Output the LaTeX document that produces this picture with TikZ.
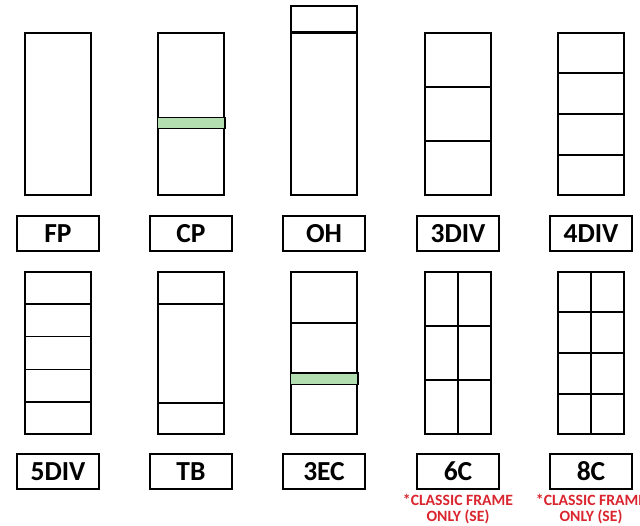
\documentclass[tikz,border=0pt]{standalone}
\usepackage{fontspec}
\setmainfont{Carlito}
\usetikzlibrary{calc}
\definecolor{notered}{RGB}{218,37,46}
\definecolor{bargreen}{RGB}{178,222,176}
\begin{document}
\begin{tikzpicture}[x=1pt,y=-1pt,
  frame/.style={draw=black,line width=1.5pt,rectangle,inner sep=0pt,minimum width=66pt,minimum height=162pt},
  tag/.style={draw=black,line width=1.3pt,rectangle,inner sep=0pt,minimum width=82pt,minimum height=35pt,font=\fontsize{27.5}{32}\selectfont\bfseries},
  note/.style={text=notered,align=center,font=\fontsize{15.7}{16.5}\selectfont\bfseries,inner sep=0pt},
  div/.style={line width=1.6pt,draw=black},
  bar/.style={draw=black,line width=1.5pt,fill=bargreen}]
\useasboundingbox (0,0) rectangle (640,525);
\fill[white] (0,0) rectangle (640,525);
% row 1 frames
\node[frame] (fp) at (58,114) {};
\node[frame] (cp) at (191,114) {};
\node[frame] (oh) at (324,114) {};
\node[frame] (d3) at (458,114) {};
\node[frame] (d4) at (591,114) {};
% row 2 frames
\node[frame] (d5) at (58,353) {};
\node[frame] (tb) at (191,353) {};
\node[frame] (ec) at (324,353) {};
\node[frame] (c6) at (458,353) {};
\node[frame] (c8) at (591,353) {};
% labels
\node[tag] (lfp) at (58,233.5) {FP};
\node[tag] (lcp) at (191,233.5) {CP};
\node[tag] (loh) at (324,233.5) {OH};
\node[tag] (ld3) at (458,233.5) {3DIV};
\node[tag] (ld4) at (591,233.5) {4DIV};
\node[tag] (ld5) at (58,471.5) {5DIV};
\node[tag] (ltb) at (191,471.5) {TB};
\node[tag] (lec) at (324,471.5) {3EC};
\node[tag] (lc6) at (458,471.5) {6C};
\node[tag] (lc8) at (591,471.5) {8C};
\node[note,anchor=north] (n6) at ($(lc6.south)+(0,4)$) {*CLASSIC FRAME\\ONLY (SE)};
\node[note,anchor=north] (n8) at ($(lc8.south)+(0,4)$) {*CLASSIC FRAME\\ONLY (SE)};
% CP green bar
\draw[bar] (cp.west |- 0,117.5) rectangle (cp.east |- 0,128.5);
% OH top box
\node[draw=black,line width=1.5pt,rectangle,inner sep=0pt,minimum width=66pt,minimum height=25.5pt,anchor=south] (ohtop) at (oh.north) {};
% 3DIV
\foreach \f in {1,2}{\draw[div] ($(d3.north west)!\f/3!(d3.south west)$) -- ($(d3.north east)!\f/3!(d3.south east)$);}
% 4DIV
\foreach \f in {1,2,3}{\draw[div] ($(d4.north west)!\f/4!(d4.south west)$) -- ($(d4.north east)!\f/4!(d4.south east)$);}
% 5DIV
\foreach \f in {1,2,3,4}{\draw[div] ($(d5.north west)!\f/5!(d5.south west)$) -- ($(d5.north east)!\f/5!(d5.south east)$);}
% TB
\draw[div] (tb.west |- 0,304) -- (tb.east |- 0,304);
\draw[div] (tb.west |- 0,403) -- (tb.east |- 0,403);
% 3EC
\draw[div] (ec.west |- 0,323) -- (ec.east |- 0,323);
\draw[bar] (ec.west |- 0,373) rectangle (ec.east |- 0,384.5);
% 6C
\draw[div] (c6.north) -- (c6.south);
\foreach \f in {1,2}{\draw[div] ($(c6.north west)!\f/3!(c6.south west)$) -- ($(c6.north east)!\f/3!(c6.south east)$);}
% 8C
\draw[div] (c8.north) -- (c8.south);
\foreach \f in {1,2,3}{\draw[div] ($(c8.north west)!\f/4!(c8.south west)$) -- ($(c8.north east)!\f/4!(c8.south east)$);}
\end{tikzpicture}
\end{document}
